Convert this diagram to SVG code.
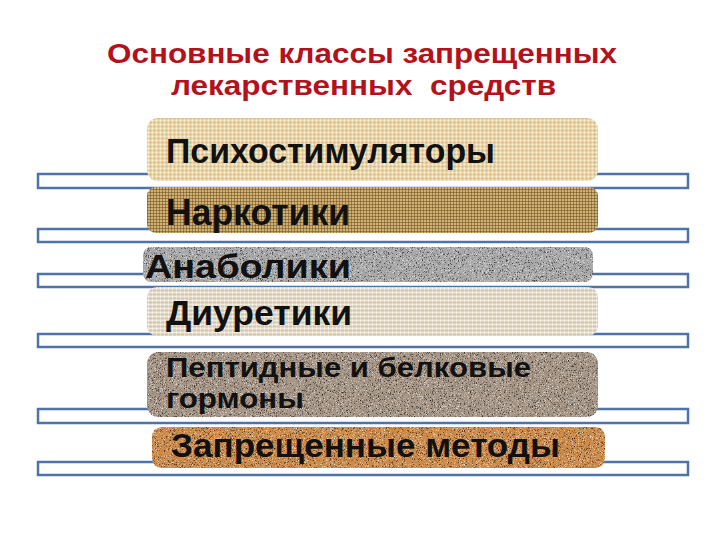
<svg xmlns="http://www.w3.org/2000/svg" width="720" height="540" viewBox="0 0 720 540">
<style>
.bar{fill:#fff;stroke:#4f73a6;stroke-width:2.5}
.t{font-family:"Liberation Sans",Arial,sans-serif;font-weight:bold;fill:#111}
.title{font-family:"Liberation Sans",Arial,sans-serif;font-weight:bold;font-size:28.5px;fill:#b3121c;text-anchor:middle}
</style>
<defs>
<pattern id="linen" width="4" height="4" patternUnits="userSpaceOnUse"><path d="M0 0.5H4M0.5 0V4" stroke="#fff" stroke-opacity="0.35" stroke-width="1"/><path d="M0 2.5H4M2.5 0V4" stroke="#8a6a30" stroke-opacity="0.12" stroke-width="1"/></pattern>
<pattern id="burlap" width="3" height="3" patternUnits="userSpaceOnUse"><path d="M0 0.5H3M0.5 0V3" stroke="#4a3410" stroke-opacity="0.35" stroke-width="1"/><rect x="1.5" y="1.5" width="1" height="1" fill="#f6e2a6" fill-opacity="0.75"/></pattern>
<pattern id="linen2" width="4" height="4" patternUnits="userSpaceOnUse"><path d="M0 0.5H4M0.5 0V4" stroke="#fff" stroke-opacity="0.45" stroke-width="1"/><path d="M0 2.5H4" stroke="#9a8a70" stroke-opacity="0.18" stroke-width="1"/></pattern>
<filter id="speck" x="0" y="0" width="100%" height="100%" color-interpolation-filters="sRGB">
<feTurbulence type="fractalNoise" baseFrequency="1.5" numOctaves="1" seed="4" result="n"/>
<feColorMatrix in="n" type="matrix" values="0 0 0 0 0  0 0 0 0 0  0 0 0 0 0  -3 0 0 0 1.3" result="dk"/>
<feColorMatrix in="n" type="matrix" values="0 0 0 0 1  0 0 0 0 1  0 0 0 0 1  3 0 0 0 -1.7" result="lt"/>
<feMerge result="m"><feMergeNode in="SourceGraphic"/><feMergeNode in="dk"/><feMergeNode in="lt"/></feMerge>
<feComposite in="m" in2="SourceGraphic" operator="in"/>
</filter>
</defs>
<rect width="720" height="540" fill="#fff"/>
<g id="title">
<text class="title" x="362" y="63" textLength="510" lengthAdjust="spacingAndGlyphs">Основные классы запрещенных</text>
<text class="title" x="363.5" y="95" xml:space="preserve" textLength="385" lengthAdjust="spacingAndGlyphs">лекарственных  средств</text>
</g>
<g id="bars">
<rect class="bar" x="38" y="174" width="650" height="14"/>
<rect class="bar" x="38" y="229" width="650" height="13"/>
<rect class="bar" x="38" y="274" width="650" height="13"/>
<rect class="bar" x="38" y="334" width="650" height="13"/>
<rect class="bar" x="38" y="409" width="650" height="14"/>
<rect class="bar" x="38" y="462" width="650" height="13"/>
</g>
<g id="n1">
<rect x="147" y="118" width="451" height="63" rx="11" fill="#edd49b"/>
<rect x="147" y="118" width="451" height="63" rx="11" fill="url(#linen)"/>
<text class="t" x="166" y="163" font-size="35" textLength="329" lengthAdjust="spacingAndGlyphs">Психостимуляторы</text>
</g>
<g id="n2">
<rect x="147" y="187" width="451" height="46" rx="9" fill="#c8a566"/>
<rect x="147" y="187" width="451" height="46" rx="9" fill="url(#burlap)"/>
<text class="t" x="166" y="225" font-size="36" textLength="184" lengthAdjust="spacingAndGlyphs">Наркотики</text>
</g>
<g id="n3">
<rect x="143" y="247" width="450" height="35" rx="8" fill="#a8a8a8" filter="url(#speck)"/>
<text class="t" x="145" y="278" font-size="34" textLength="206" lengthAdjust="spacingAndGlyphs">Анаболики</text>
</g>
<g id="n4">
<rect x="147" y="287" width="451" height="49" rx="10" fill="#e0d4bd"/>
<rect x="147" y="287" width="451" height="49" rx="10" fill="url(#linen2)"/>
<text class="t" x="166" y="325" font-size="35" textLength="186" lengthAdjust="spacingAndGlyphs">Диуретики</text>
</g>
<g id="n5">
<rect x="147" y="352" width="451" height="65" rx="11" fill="#a69585" filter="url(#speck)"/>
<text class="t" x="166" y="377" font-size="27.5" textLength="365" lengthAdjust="spacingAndGlyphs">Пептидные и белковые</text>
<text class="t" x="166" y="408" font-size="27.5" textLength="138" lengthAdjust="spacingAndGlyphs">гормоны</text>
</g>
<g id="n6">
<rect x="152" y="427" width="453" height="41" rx="9" fill="#cd8a48" filter="url(#speck)"/>
<text class="t" x="171" y="457" font-size="34" textLength="389" lengthAdjust="spacingAndGlyphs">Запрещенные методы</text>
</g>
</svg>
